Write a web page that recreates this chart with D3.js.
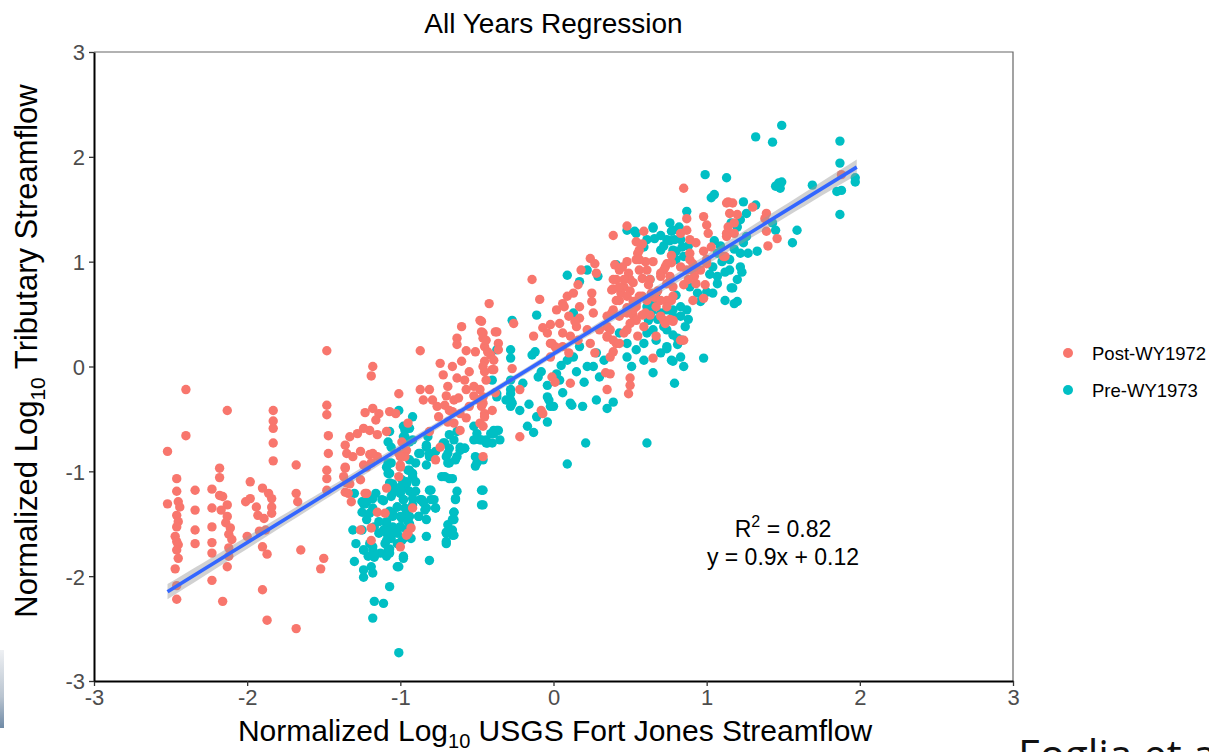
<!DOCTYPE html>
<html><head><meta charset="utf-8">
<script src="https://cdn.jsdelivr.net/npm/d3@7"></script>
<style>body{margin:0;background:#fff;overflow:hidden} text{font-family:"Liberation Sans",Arial,sans-serif;}</style>
</head><body><svg id="chart" width="1209" height="752"></svg>
<script>
const titleText = "All Years Regression";
const xTicks = [-3,-2,-1,0,1,2,3];
const yTicks = [-3,-2,-1,0,1,2,3];
const seriesNames = ["Post-WY1972","Pre-WY1973"];
const seriesColors = ["#F8766D","#00BFC4"];
const fitSlope = 0.9, fitIntercept = 0.12, rSquared = 0.82;
const fitRange = [-2.52, 1.98];
const sampleCountEstimate = 1100;

const postWY1972 = [
[-2.40,-0.22],[-2.13,-0.42],[-1.83,-0.42],[-1.83,-0.52],[-1.83,-0.59],[-1.83,-0.73],[-1.83,-0.90],[-2.40,-0.66],[-2.52,-0.81],
[-1.48,-0.37],[-1.48,-0.46],[-1.47,-0.66],[-1.47,-0.83],[-1.48,-0.99],[-1.48,-1.07],[-1.48,-1.18],
[-1.36,-0.75],[-1.35,-0.83],[-1.36,-0.97],[-1.35,-1.11],[-1.34,-1.21],
[-1.68,-0.94],[-1.68,-1.21],[-1.67,-1.29],[-1.65,-1.75],[-1.50,-1.83],[-1.52,-1.93],[-1.68,-2.50],[-1.87,-2.42],[-1.90,-2.13],[-2.16,-2.24],[-2.23,-2.04],[-2.46,-2.22],[-2.46,-2.09],[-2.47,-1.93],
[-2.46,-1.07],[-2.46,-1.19],[-2.45,-1.29],[-2.44,-1.34],[-2.46,-1.42],[-2.45,-1.48],[-2.46,-1.53],[-2.47,-1.62],[-2.46,-1.67],[-2.45,-1.70],[-2.46,-1.75],[-2.45,-1.83],[-2.52,-1.31],
[-2.34,-1.18],[-2.34,-1.37],[-2.34,-1.56],[-2.34,-1.69],
[-2.23,-1.17],[-2.23,-1.35],[-2.23,-1.53],[-2.23,-1.68],[-2.23,-1.78],
[-2.18,-0.97],[-2.18,-1.06],
[-2.18,-1.23],[-2.16,-1.24],[-2.13,-1.32],[-2.17,-1.37],[-2.13,-1.43],[-2.14,-1.49],[-2.11,-1.54],[-2.12,-1.60],[-2.10,-1.65],[-2.12,-1.73],[-2.12,-1.81],[-2.13,-1.91],
[-1.98,-1.10],[-2.01,-1.29],[-1.98,-1.26],[-2.00,-1.62],
[-1.90,-1.16],[-1.86,-1.21],[-1.84,-1.26],[-1.84,-1.34],[-1.84,-1.40],[-1.89,-1.45],[-1.94,-1.34],[-1.93,-1.42],[-1.92,-1.57],[-1.88,-1.56],[-1.90,-1.72],[-1.87,-1.79],
[-0.42,0.60],[-1.48,0.15],[-0.87,0.15],[-1.18,0.00],[-1.19,-0.09],
[-0.60,0.38],[-0.63,0.27],[-0.63,0.21],[-0.57,0.15],[-0.47,0.43],[-0.47,0.33],[-0.46,0.27],[-0.45,0.19],[-0.37,0.33],[-0.36,0.22],[-0.36,0.16],[-0.51,0.14],[-0.41,0.11],[-0.45,0.05],[-0.45,-0.05],[-0.40,-0.03],
[-1.01,-0.26],
[-0.74,0.03],[-0.66,0.00],[-0.72,-0.08],[-0.69,-0.19],[-0.63,-0.11],[-0.58,-0.13],[-0.57,-0.22],[-0.87,-0.22],[-0.81,-0.22],[-0.85,-0.32],[-0.79,-0.32],[-0.76,-0.38],[-0.71,-0.37],[-0.65,-0.32],[-0.66,-0.43],[-0.61,-0.45],[-0.57,-0.49],[-0.52,-0.19],[-0.48,-0.22],[-0.49,-0.32],[-0.46,-0.35],[-0.45,-0.45],[-0.48,-0.54],[-0.65,-0.54],[-0.61,-0.61],[-0.69,-0.53],
[-0.70,-0.28],[-0.62,-0.30],[-0.55,-0.38],[-0.75,-0.48],[-0.68,-0.42],[-0.55,-0.05],[-0.60,0.05],[-0.52,-0.28],[-0.40,-0.42],[-0.38,-0.25],
[-1.23,-0.44],[-1.18,-0.40],[-1.14,-0.45],[-1.16,-0.51],[-1.20,-0.61],[-1.24,-0.59],[-1.28,-0.64],[-1.33,-0.67],[-1.31,-0.86],[-1.26,-0.81],[-1.20,-0.84],[-1.36,-0.96],[-1.37,-1.05],[-1.33,-1.12],[-1.36,-1.20],[-1.32,-1.29],[-1.24,-0.94],[-1.19,-0.92],[-1.15,-0.86],[-1.26,-1.08],[-1.22,-1.21],
[-1.22,-0.96],[-1.18,-0.83],[-1.15,-0.65],[-1.09,-0.62],
[-1.23,-1.21],[-1.09,-1.16],[-1.10,-1.40],[-1.15,-1.39],[-1.26,-1.56],[-1.19,-1.54],[-1.19,-1.66],[-1.00,-1.72],[-0.95,-1.59],[-0.93,-1.54],[-0.96,-1.61],
[-1.01,-0.83],[-1.00,-0.96],[-1.01,-1.05],[-0.96,-0.80],[-0.97,-0.86],[-0.99,-0.72],[-1.00,-0.86],[-1.00,-0.94],
[-0.77,-0.89],[-0.46,-0.86],[-0.22,-0.67],
[-0.92,-1.35],[-0.74,-0.77],[-0.81,-0.62],[-1.07,-0.43],[-0.95,-0.54],[-1.03,-0.45],
[0.39,1.25],[-0.14,0.83],
[0.16,0.78],[0.18,0.92],[0.24,1.03],[0.27,0.98],[0.28,0.89],[0.25,0.70],[0.25,0.62],[0.17,0.57],[0.09,0.67],[0.06,0.60],[0.02,0.54],[0.10,0.48],[0.04,0.41],[-0.02,0.40],[-0.07,0.37],[-0.13,0.29],[-0.09,0.64],[-0.04,0.32],[-0.01,0.22],[0.06,0.32],[0.11,0.29],[0.15,0.38],[0.17,0.46],[0.16,0.25],[0.22,0.35],[0.24,0.22],[0.27,0.13],[0.10,0.13],[0.06,0.19],[0.01,0.19],[-0.02,0.09],
[-0.48,0.44],[-0.46,0.32],[-0.44,0.25],[-0.43,0.14],[-0.39,0.06],[-0.46,0.00],[-0.44,-0.13],[-0.39,-0.03],[-0.46,-0.29],[-0.47,-0.38],[-0.45,-0.48],[-0.46,-0.57],[-0.38,0.33],
[-0.26,0.41],[-0.27,-0.02],[-0.22,-0.22],[-0.08,-0.42],[-0.07,-0.45],[-0.01,-0.10],[0.01,-0.15],[0.11,-0.16],[0.35,-0.22],[0.37,-0.07],[0.37,0.09],[0.35,0.28],[0.41,0.22],[0.39,0.14],
[0.40,0.97],[0.43,0.92],[0.48,1.00],[0.49,0.89],[0.41,0.83],[0.39,0.74],[0.46,0.76],[0.52,0.80],[0.56,0.92],[0.58,0.84],[0.54,1.02],[0.55,1.08],[0.58,1.17],[0.54,1.19],[0.59,1.29],[0.48,1.34],[0.65,1.00],[0.70,0.89],[0.73,0.95],[0.74,0.79],[0.74,0.63],[0.67,0.57],[0.61,0.63],[0.56,0.67],[0.54,0.57],[0.43,0.63],[0.48,0.56],[0.52,0.49],[0.38,0.51],[0.35,0.38],[0.30,0.35],[0.48,0.35],[0.54,0.44],[0.63,0.49],[0.72,0.44],[0.78,0.44],[0.77,0.99],[0.77,0.63],[0.65,0.08],[0.50,-0.11],[0.50,-0.18],[0.49,-0.26],[0.34,-0.06],
[0.45,0.95],[0.50,0.72],[0.62,0.78],[0.66,0.66],[0.52,0.62],[0.44,0.70],[0.60,1.00],[0.68,0.72],
[0.85,1.70],
[0.87,1.41],[0.98,1.43],[1.00,1.35],[1.13,1.56],[1.17,1.56],[1.15,1.46],[1.14,1.33],[1.13,1.27],[1.18,1.27],[1.01,1.27],[0.87,1.30],[0.89,1.21],[0.83,1.27],
[0.77,1.06],[0.74,0.98],[0.72,0.92],[0.70,0.86],[0.76,0.86],[0.78,0.76],[0.83,0.95],[0.89,1.02],[0.91,0.92],[0.92,0.86],[0.88,0.83],[0.85,0.78],[0.98,1.10],[1.03,1.14],[1.00,1.02],[1.11,1.05],[0.96,0.92],[0.99,0.78],[0.98,0.65],[0.91,0.63],
[0.70,0.63],[0.74,0.57],[0.76,0.45],[0.73,0.41],[0.83,0.25],
[0.56,1.11],[0.56,1.02],[0.61,0.92],[0.63,0.83],[0.58,0.67],[0.64,0.70],[0.50,0.83],[0.46,0.83],[0.43,0.76],[0.39,0.83],[0.38,0.73],[0.41,0.63],[0.48,0.67],[0.54,0.60],[0.52,0.54],[0.60,0.51],[0.70,0.48],[0.59,0.38],[0.50,0.41],[0.48,0.51],[0.43,0.48],[0.39,0.54],[0.35,0.48],[0.37,0.35],[0.35,0.29],[0.39,0.25],[0.46,0.32],[0.43,0.22],[0.55,0.29],[0.58,0.49],[0.67,0.29],
[0.26,0.51],
[1.88,1.83],[1.14,1.57],[1.20,1.45],[1.18,1.37],[1.13,1.24],[1.12,1.05],
[1.30,1.52],[1.39,1.46],[1.38,1.41],[1.39,1.29],[1.46,1.22],[1.40,1.15],
[0.85,0.25],[0.78,0.43],[0.78,0.67],
[0.93,1.18],[1.00,0.98],[0.91,0.98],[0.89,1.08],[0.87,0.92],[0.93,0.79],
[0.07,0.57],[0.13,0.70],[0.14,0.43],[-0.02,0.22],[0.02,0.17]
];

const preWY1973 = [
[-0.27,0.44],[-0.28,0.16],[-0.28,0.08],[-0.28,-0.13],[-0.28,-0.26],[-0.28,-0.32],[-0.28,-0.38],
[-0.37,0.16],[-0.40,-0.13],[-0.37,-0.29],
[-1.01,-0.42],[-0.92,-0.48],[-0.97,-0.61],[-1.07,-0.62],[-0.98,-0.67],[-0.94,-0.72],[-1.08,-0.72],[-1.06,-0.77],
[-0.82,-0.67],[-0.83,-0.77],[-0.87,-0.83],[-0.81,-0.86],[-0.77,-0.81],[-0.72,-0.73],[-0.68,-0.78],[-0.70,-0.86],[-0.68,-0.92],[-0.63,-0.86],[-0.61,-0.77],[-0.58,-0.78],[-0.52,-0.70],[-0.48,-0.70],[-0.50,-0.64],[-0.44,-0.70],[-0.39,-0.64],[-0.36,-0.61],[-0.40,-0.73],[-0.44,-0.73],[-0.51,-0.95],[-0.46,-0.89],
[-0.98,-0.57],[-0.94,-0.59],[-0.97,-0.67],[-0.92,-0.70],
[-0.83,-0.75],[-0.81,-0.83],[-0.88,-0.83],[-0.90,-0.92],[-0.94,-0.99],[-0.92,-1.05],[-0.96,-1.12],[-1.00,-1.15],[-1.05,-1.12],[-1.07,-1.02],[-1.09,-0.96],[-1.06,-0.92],[-0.83,-0.94],
[-0.73,-1.05],[-0.68,-1.07],[-0.69,-0.92],[-0.64,-0.89],[-0.69,-0.83],[-0.71,-0.73],[-0.65,-0.70],[-0.61,-0.80],[-0.58,-0.78],[-0.68,-0.65],[-0.63,-0.62],[-0.52,-0.57],[-0.47,-0.70],[-0.43,-0.73],[-0.37,-0.61],[-0.41,-0.64],[-0.50,-0.92],[-0.51,-0.86],[-0.47,-1.18],[-0.47,-1.32],
[-0.81,-1.18],[-0.80,-1.27],[-0.86,-1.27],[-0.77,-1.35],[-0.84,-1.37],[-0.88,-1.43],[-0.83,-1.46],
[-0.64,-1.26],[-0.65,-1.39],[-0.66,-1.46],[-0.69,-1.51],[-0.70,-1.58],[-0.66,-1.61],[-0.70,-1.69],
[-0.98,-1.16],[-1.00,-1.21],[-0.98,-1.27],[-1.02,-1.34],[-1.05,-1.40],[-1.00,-1.43],[-0.96,-1.40],[-0.94,-1.50],[-0.96,-1.56],[-1.00,-1.53],[-1.05,-1.53],[-1.09,-1.50],[-1.09,-1.59],[-1.06,-1.64],[-1.02,-1.69],[-0.98,-1.64],[-1.10,-1.69],[-1.08,-1.75],[-1.13,-1.78],[-1.17,-1.82],[-1.18,-1.75],[-1.20,-1.69],[-1.14,-1.59],[-1.17,-1.53],[-1.22,-1.46],[-1.23,-1.31],[-1.18,-1.26],[-1.12,-1.27],[-1.06,-1.24],[-1.04,-1.18],[-0.99,-1.08],[-0.94,-1.19],[-0.92,-1.26],
[-1.24,-1.31],[-1.25,-1.39],[-1.24,-1.75],[-1.21,-1.81],[-1.19,-1.91],[-1.02,-1.91],[-0.98,-1.81],[-1.07,-1.78],
[-1.08,-0.92],[-1.08,-1.02],[-1.07,-1.11],[-1.05,-1.21],[-1.00,-1.16],[-0.96,-1.10],[-0.95,-0.99],[-0.94,-0.89],[-0.92,-1.02],[-0.90,-1.10],[-0.90,-1.19],[-0.98,-1.27],[-1.02,-1.34],[-0.97,-1.35],[-0.92,-1.32],[-0.87,-1.27],[-0.85,-1.30],[-0.83,-1.35],[-0.77,-1.35],[-0.88,-1.43],[-0.94,-1.43],[-0.99,-1.45],[-1.05,-1.43],[-1.09,-1.48],[-1.11,-1.56],[-1.06,-1.56],[-1.00,-1.53],[-0.95,-1.48],[-1.02,-1.59],[-1.09,-1.66],[-0.99,-1.66],[-0.93,-1.64],[-1.07,-1.74],[-1.09,-1.81],[-1.01,-1.91],[-0.98,-1.83],[-1.17,-1.78],[-1.18,-1.72],[-1.24,-1.75],[-1.29,-1.69],[-1.31,-1.56],[-1.25,-1.56],[-1.11,-1.28],[-1.16,-1.21],[-1.22,-1.29],[-1.25,-1.29],[-1.20,-1.40],[-1.30,-1.21],[-1.18,-1.35],[-1.07,-1.38],[-1.14,-1.48],
[-1.24,-2.01],[-1.18,-1.97],[-1.17,-2.24],[-1.11,-2.26],[-1.18,-2.40],[-1.01,-2.73],[-1.07,-2.10],[-0.81,-1.85],[-0.83,-1.62],
[-0.65,-1.39],[-0.65,-1.46],[-0.66,-1.56],[-0.70,-1.59],[-0.70,-1.67],[-0.64,-1.27],[-0.63,-1.19],
[-0.46,-1.18],[-0.46,-1.32],[-0.71,-1.05],[-0.66,-1.07],
[-0.80,-1.18],[-0.78,-1.27],[-0.85,-1.29],
[-1.30,-1.86],[-1.24,-1.94],[-0.65,-1.61],
[0.09,0.87],[0.17,0.81],[0.22,0.92],[0.29,0.86],[0.41,0.97],
[-0.11,0.49],[-0.12,0.14],[-0.14,0.11],
[-0.10,-0.10],[-0.04,-0.18],[0.02,-0.07],[0.05,0.01],[0.04,-0.13],[0.09,0.06],[0.13,0.09],[0.22,0.00],[0.26,0.00],[0.28,0.13],[0.33,0.06],[0.17,0.19],[0.30,-0.10],
[-0.20,-0.16],[-0.16,-0.36],[0.06,-0.25],[-0.08,-0.05],[0.15,-0.05],[0.20,-0.15],[-0.22,-0.42],
[-0.28,-0.22],[-0.27,-0.35],[-0.31,-0.32],[-0.37,-0.26],[-0.39,-0.61],[-0.35,-0.70],[-0.17,-0.57],[-0.13,-0.63],[-0.11,-0.48],[-0.04,-0.53],[-0.03,-0.32],[-0.02,-0.38],[-0.04,-0.29],[0.11,-0.35],[0.19,-0.38],[0.28,-0.32],[0.35,-0.40],[0.39,-0.34],[0.21,-0.73],[0.61,-0.73],[0.51,0.00],[0.48,0.09],
[0.48,1.30],[0.54,1.27],[0.65,1.33],[0.74,1.21],[0.78,1.30],[0.83,1.21],[0.70,1.11],[0.80,1.02],[0.78,1.11],[0.63,0.83],[0.67,0.70],[0.61,0.57],[0.70,0.51],[0.78,0.54],[0.74,0.35],[0.61,0.32],[0.59,0.22],[0.54,0.16],[0.48,0.22],[0.43,0.32],[0.74,0.19],[0.77,0.06],[0.65,-0.06],[0.59,0.06],[0.70,0.13],[0.83,0.09],[0.79,-0.16],
[0.09,-0.93],[0.00,-0.38],[0.12,-0.37],[0.13,0.51],
[0.72,1.15],[0.80,1.10],[0.85,1.05],[0.76,1.20],[0.82,1.33],[0.70,1.25],[0.88,1.15],
[1.05,1.20],[1.10,1.00],[1.18,1.12],[1.12,0.90],[1.02,0.88],[1.22,0.95],
[0.66,0.60],[0.72,0.38],[0.78,0.30],[0.68,0.45],[0.88,0.45],[0.64,0.52],
[0.99,1.83],[1.13,1.80],[1.05,1.64],[1.03,1.61],
[0.87,1.48],[0.76,1.37],[0.77,1.29],[0.65,1.32],[0.66,1.22],[0.53,1.29],[0.61,1.21],[0.59,1.14],
[1.24,1.57],[1.26,1.46],[1.22,1.40],[1.20,1.33],[1.26,1.24],[1.24,1.18],[1.22,1.08],[1.15,1.02],[1.09,1.15],[1.07,1.08],[1.04,0.95],[1.07,0.86],[1.15,0.92],[1.20,0.83],[1.17,0.75],[1.18,0.60],[1.12,0.63],[1.04,0.70],[0.96,0.62],[0.94,0.70],[0.89,0.76],[0.80,0.68],[0.83,0.57],[0.78,0.48],[0.74,0.54],[0.83,0.48],[0.87,0.54],[0.86,0.38],[0.81,0.27],[0.67,0.25],[0.65,0.35],[0.62,0.44],
[0.79,1.21],[0.84,1.14],
[1.49,2.30],[1.32,2.19],[1.43,2.14],[1.87,2.15],[1.87,1.94],[1.88,1.68],[1.85,1.67],[1.97,1.80],[1.97,1.76],[1.87,1.45],[1.47,1.75],[1.48,1.70],[1.45,1.72],[1.49,1.76],[1.69,1.73],[1.59,1.30],[1.56,1.18],[1.33,1.10],[1.43,1.37],[1.45,1.30],
[1.32,1.54],[1.16,1.37],[1.27,1.08],[1.23,0.90],[1.16,0.75],[1.20,0.62],[1.07,0.79],[1.00,0.71],
[0.98,0.08],[0.85,0.00],[0.78,0.05],[0.74,0.17],[0.81,0.21],[0.84,0.25]
];

const svg = d3.select("#chart");
svg.append("rect").attr("width",1209).attr("height",752).attr("fill","#fff");

// partial slide image fragment at left edge
const defs = svg.append("defs");
const grad = defs.append("linearGradient").attr("id","frag").attr("x1",0).attr("y1",0).attr("x2",0).attr("y2",1);
grad.append("stop").attr("offset","0%").attr("stop-color","#eef0f3");
grad.append("stop").attr("offset","60%").attr("stop-color","#b9c4d0");
grad.append("stop").attr("offset","100%").attr("stop-color","#6f8aa6");
svg.append("rect").attr("x",0).attr("y",650).attr("width",4).attr("height",78).attr("fill","url(#frag)");

const x = d3.scaleLinear().domain([-3,3]).range([94,1013]);
const y = d3.scaleLinear().domain([-3,3]).range([681,52]);

// panel border (top/right)
svg.append("path").attr("d",`M${x(-3)},${y(3)}H${x(3)}V${y(-3)}`).attr("fill","none").attr("stroke","#666").attr("stroke-width",1.2);

const pts = svg.append("g");
const r = 4.7;
pts.selectAll("circle.pre").data(preWY1973).join("circle").attr("class","pre")
  .attr("cx",d=>x(d[0])).attr("cy",d=>y(d[1])).attr("r",r).attr("fill",seriesColors[1]);
pts.selectAll("circle.post").data(postWY1972).join("circle").attr("class","post")
  .attr("cx",d=>x(d[0])).attr("cy",d=>y(d[1])).attr("r",r).attr("fill",seriesColors[0]);

// regression band + line
const all = postWY1972.concat(preWY1973);
const n = sampleCountEstimate;
const xm = d3.mean(all,d=>d[0]);
const varx = d3.variance(all,d=>d[0]);
const sxx = varx*(n-1);
const s = Math.sqrt(d3.sum(all,d=>(d[1]-(fitSlope*d[0]+fitIntercept))**2)/(all.length-2));
const bandX = d3.range(0,81).map(i=>fitRange[0]+(fitRange[1]-fitRange[0])*i/80);
const se = xv => 1.96*s*Math.sqrt(1/n+(xv-xm)**2/sxx);
svg.append("path").datum(bandX)
  .attr("d",d3.area().x(d=>x(d)).y0(d=>y(fitSlope*d+fitIntercept-se(d))).y1(d=>y(fitSlope*d+fitIntercept+se(d))))
  .attr("fill","#999").attr("opacity",0.45);
svg.append("path").datum(fitRange)
  .attr("d",d3.line().x(d=>x(d)).y(d=>y(fitSlope*d+fitIntercept)))
  .attr("stroke","#3366FF").attr("stroke-width",3.6).attr("fill","none");

// axes
const xAxis = svg.append("g").attr("transform",`translate(0,${y(-3)})`)
  .call(d3.axisBottom(x).tickValues(xTicks).tickSize(5).tickSizeOuter(0).tickPadding(3).tickFormat(d=>String(d)));
const yAxis = svg.append("g").attr("transform",`translate(${x(-3)},0)`)
  .call(d3.axisLeft(y).tickValues(yTicks).tickSize(5).tickSizeOuter(0).tickPadding(4).tickFormat(d=>String(d)));
[xAxis,yAxis].forEach(g=>{
  g.select(".domain").attr("stroke","#000").attr("stroke-width",2);
  g.selectAll(".tick line").attr("stroke","#333").attr("stroke-width",1.3);
  g.selectAll(".tick text").attr("fill","#4d4d4d").style("font-size","22px").style("font-family","'Liberation Sans',Arial,sans-serif");
});
yAxis.selectAll(".tick text").attr("dy","0.36em");

// title
svg.append("text").attr("x",553.5).attr("y",33).attr("text-anchor","middle")
  .style("font-size","28px").attr("fill","#000").text(titleText);

// x title
const xt = svg.append("text").attr("x",555).attr("y",741).attr("text-anchor","middle").style("font-size","30px").attr("fill","#000");
xt.append("tspan").text("Normalized Log");
xt.append("tspan").attr("dy",7).style("font-size","20px").text("10");
xt.append("tspan").attr("dy",-7).text(" USGS Fort Jones Streamflow");

// y title
const yt = svg.append("text").attr("transform","translate(37,351) rotate(-90)").attr("text-anchor","middle").style("font-size","31px").attr("fill","#000");
yt.append("tspan").text("Normalized Log");
yt.append("tspan").attr("dy",8).style("font-size","21px").text("10");
yt.append("tspan").attr("dy",-8).text(" Tributary Streamflow");

// annotation
const a1 = svg.append("text").attr("x",783).attr("y",537).attr("text-anchor","middle").style("font-size","23px").attr("fill","#000");
a1.append("tspan").text("R");
a1.append("tspan").attr("dy",-10).style("font-size","16px").text("2");
a1.append("tspan").attr("dy",10).text(" = " + rSquared.toFixed(2));
svg.append("text").attr("x",783).attr("y",565).attr("text-anchor","middle").style("font-size","23px").attr("fill","#000")
  .text(`y = ${fitSlope}x + ${fitIntercept}`);

// legend
const leg = svg.append("g");
seriesNames.forEach((nm,i)=>{
  const ly = 353 + i*37;
  leg.append("circle").attr("cx",1068).attr("cy",ly).attr("r",5).attr("fill",seriesColors[i]);
  leg.append("text").attr("x",1092).attr("y",ly+6.5).style("font-size","18.5px").attr("fill","#000").text(nm);
});

// slide caption fragment (cut by the slide edge, as in the reference)
svg.append("text").attr("x",1018).attr("y",770).style("font-family","'Open Sans','Noto Sans',sans-serif").style("font-size","42px").attr("fill","#111").text("Foglia et al.");
</script></body></html>
